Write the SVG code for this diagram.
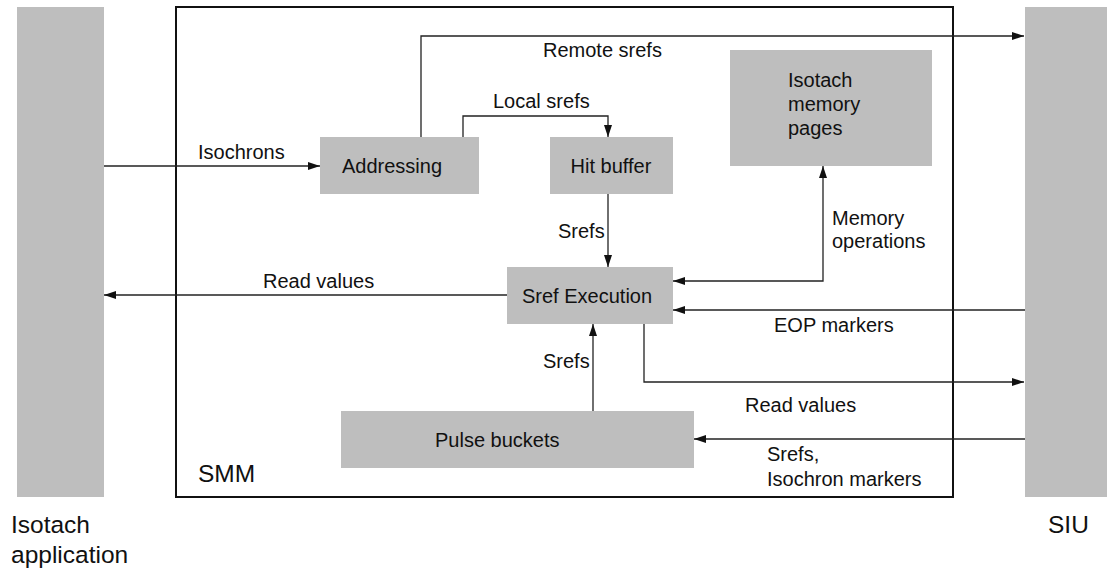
<svg xmlns="http://www.w3.org/2000/svg" width="1107" height="572" viewBox="0 0 1107 572">
  <style>
    .blk { fill: #bebebe; stroke: none; }
    .frame { fill: none; stroke: #111; stroke-width: 2; }
    .wire { fill: none; stroke: #222; stroke-width: 1.3; }
    .lbl { font-family: "Liberation Sans", Arial, sans-serif; font-size: 20px; fill: #111; }
    .big { font-family: "Liberation Sans", Arial, sans-serif; font-size: 24.5px; fill: #111; }
    .mid { text-anchor: middle; }
  </style>
  <defs>
    <marker id="arrow" markerUnits="userSpaceOnUse" markerWidth="13" markerHeight="8" refX="12" refY="4" orient="auto-start-reverse">
      <path d="M0,0 L12,4 L0,8 z" fill="#111"/>
    </marker>
  </defs>

  <rect fill="#ffffff" x="0" y="0" width="1107" height="572"/>

  <!-- external units -->
  <g id="isotach-application">
    <rect class="blk" x="17" y="7" width="87" height="490"/>
    <text class="big" x="11" y="533">Isotach</text>
    <text class="big" x="11" y="563">application</text>
  </g>
  <g id="siu">
    <rect class="blk" x="1025" y="7" width="82" height="490"/>
    <text class="big" x="1048" y="533">SIU</text>
  </g>

  <!-- SMM enclosure -->
  <g id="smm">
    <rect class="frame" x="176" y="7" width="777" height="490"/>
    <text class="big" x="198" y="482">SMM</text>
  </g>

  <!-- connectors -->
  <g id="connectors">
    <path class="wire" d="M104,166 H320" marker-end="url(#arrow)"/>
    <text class="lbl" x="198" y="159">Isochrons</text>

    <path class="wire" d="M421,137 V36 H1024" marker-end="url(#arrow)"/>
    <text class="lbl" x="543" y="57">Remote srefs</text>

    <path class="wire" d="M463,137 V116 H608 V137" marker-end="url(#arrow)"/>
    <text class="lbl" x="493" y="108">Local srefs</text>

    <path class="wire" d="M608,194 V267" marker-end="url(#arrow)"/>
    <text class="lbl" x="558" y="238">Srefs</text>

    <path class="wire" d="M673,281 H823 V166" marker-start="url(#arrow)" marker-end="url(#arrow)"/>
    <text class="lbl" x="832" y="225">Memory</text>
    <text class="lbl" x="832" y="248">operations</text>

    <path class="wire" d="M507,295 H104" marker-end="url(#arrow)"/>
    <text class="lbl" x="263" y="288">Read values</text>

    <path class="wire" d="M1025,310 H673" marker-end="url(#arrow)"/>
    <text class="lbl" x="774" y="332">EOP markers</text>

    <path class="wire" d="M644,324 V382 H1024" marker-end="url(#arrow)"/>
    <text class="lbl" x="745" y="412">Read values</text>

    <path class="wire" d="M593,411 V324" marker-end="url(#arrow)"/>
    <text class="lbl" x="543" y="368">Srefs</text>

    <path class="wire" d="M1025,439 H694" marker-end="url(#arrow)"/>
    <text class="lbl" x="767" y="461">Srefs,</text>
    <text class="lbl" x="767" y="486">Isochron markers</text>
  </g>

  <!-- SMM internal blocks -->
  <g id="addressing">
    <rect class="blk" x="320" y="137" width="159" height="57"/>
    <text class="lbl" x="342" y="173">Addressing</text>
  </g>
  <g id="hit-buffer">
    <rect class="blk" x="550" y="137" width="123" height="57"/>
    <text class="lbl mid" x="611" y="173">Hit buffer</text>
  </g>
  <g id="isotach-memory-pages">
    <rect class="blk" x="730" y="50" width="202" height="116"/>
    <text class="lbl" x="788" y="87">Isotach</text>
    <text class="lbl" x="788" y="111">memory</text>
    <text class="lbl" x="788" y="135">pages</text>
  </g>
  <g id="sref-execution">
    <rect class="blk" x="507" y="267" width="166" height="57"/>
    <text class="lbl" x="522" y="303">Sref Execution</text>
  </g>
  <g id="pulse-buckets">
    <rect class="blk" x="341" y="411" width="353" height="57"/>
    <text class="lbl" x="435" y="447">Pulse buckets</text>
  </g>
</svg>
